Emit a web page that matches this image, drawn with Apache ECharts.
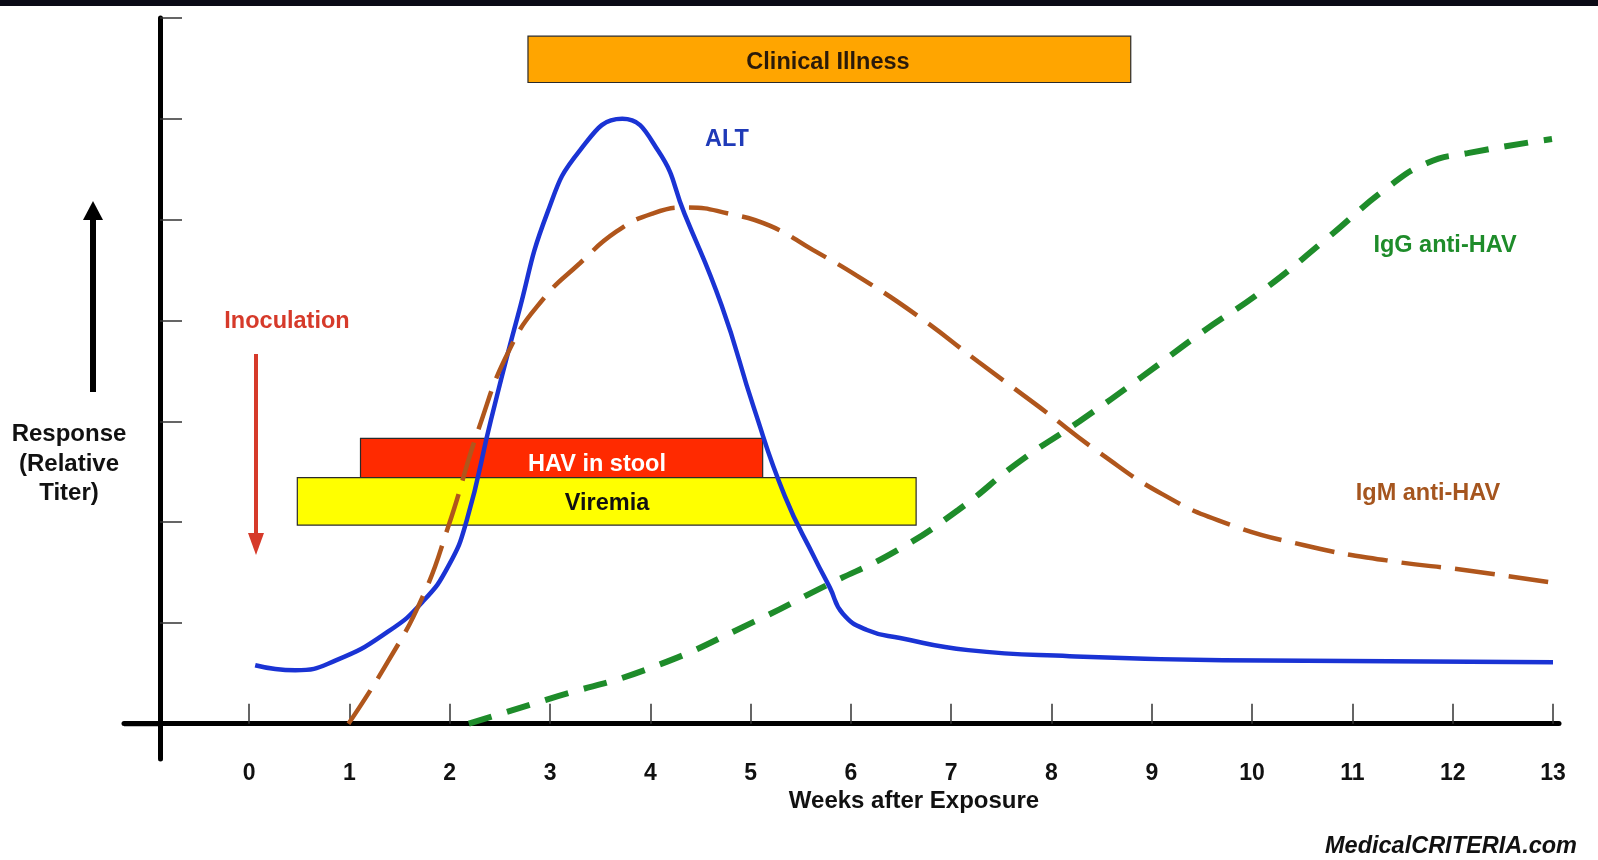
<!DOCTYPE html>
<html>
<head>
<meta charset="utf-8">
<title>Hepatitis A serology</title>
<script src="https://cdn.jsdelivr.net/npm/echarts@6/dist/echarts.min.js"></script>
<style>
  html, body { margin: 0; padding: 0; background: #fff; }
  #chart { width: 1598px; height: 860px; }
</style>
</head>
<body>
<div id="chart"></div>
<script>
// weeks after exposure -> relative titer
const weekTicks = [0, 1, 2, 3, 4, 5, 6, 7, 8, 9, 10, 11, 12, 13];
const titerTicks = [1, 2, 3, 4, 5, 6, 7];

const altWeeks = [0.06, 0.46, 0.87, 1.38, 1.73, 1.99, 2.17, 2.41, 2.68, 2.97, 3.3, 3.72, 4.08, 4.34, 4.71, 5.03, 5.34, 5.64, 5.79, 5.92, 6.16, 6.49, 7.17, 8.18, 9.71, 13];
const altValues = [0.58, 0.53, 0.63, 0.91, 1.21, 1.57, 2.02, 3.01, 4.05, 5.06, 5.69, 6.0, 5.68, 5.06, 4.15, 3.14, 2.26, 1.64, 1.35, 1.09, 0.93, 0.85, 0.73, 0.67, 0.63, 0.61];

const igmWeeks = [0.99, 1.38, 1.73, 1.99, 2.29, 2.6, 2.93, 3.3, 3.66, 4.02, 4.37, 4.78, 5.19, 5.62, 6.05, 6.66, 7.27, 7.88, 8.49, 9.1, 9.71, 10.52, 11.34, 12.15, 12.99];
const igmValues = [0, 0.61, 1.26, 1.97, 2.93, 3.72, 4.21, 4.57, 4.88, 5.06, 5.12, 5.06, 4.94, 4.7, 4.45, 4.05, 3.59, 3.14, 2.68, 2.28, 2.0, 1.77, 1.62, 1.52, 1.4];

const iggWeeks = [2.19, 3.0, 4.02, 5.03, 5.75, 6.46, 7.07, 7.68, 8.28, 8.9, 9.51, 10.11, 10.73, 11.34, 11.74, 12.15, 12.99];
const iggValues = [0, 0.25, 0.56, 1.01, 1.37, 1.72, 2.12, 2.6, 3.0, 3.44, 3.89, 4.3, 4.8, 5.31, 5.56, 5.66, 5.8];

// periods drawn as boxes
const bandNames = ['Clinical Illness', 'HAV in stool', 'Viremia'];
const bandStart = [2.78, 1.11, 0.48];
const bandEnd = [8.79, 5.12, 6.65];
const bandLow = [6.36, 2.44, 1.97];
const bandHigh = [6.82, 2.83, 2.44];
const bandColors = ['#ffa500', '#ff2a00', '#ffff00'];

const FONT = '"Liberation Sans", Arial, sans-serif';

const pairs = (xs, ys) => xs.map((x, i) => [x, ys[i]]);

const chart = echarts.init(document.getElementById('chart'));

const txt = (x, y, text, color, size, extra) => ({
  type: 'text',
  x: x,
  y: y,
  z: 100,
  style: Object.assign({
    text: text,
    fill: color,
    font: 'bold ' + size + 'px ' + FONT,
    textAlign: 'center',
    textVerticalAlign: 'middle'
  }, extra || {})
});

const option = {
  animation: false,
  backgroundColor: '#fff',
  grid: { left: 124, right: 39, top: 18, bottom: 101 },
  xAxis: {
    type: 'value',
    min: -1.248,
    max: 13.06,
    splitLine: { show: false },
    axisLine: { onZero: true, lineStyle: { color: '#000', width: 5 } },
    axisTick: {
      inside: true,
      length: 20,
      customValues: weekTicks,
      lineStyle: { color: '#333', width: 1.5 }
    },
    axisLabel: {
      customValues: weekTicks,
      margin: 3,
      color: '#111',
      fontSize: 23,
      fontWeight: 'bold',
      fontFamily: FONT
    }
  },
  yAxis: {
    type: 'value',
    min: -0.35,
    max: 7,
    offset: -36,
    splitLine: { show: false },
    axisLine: { show: true, onZero: false, lineStyle: { color: '#000', width: 5 } },
    axisTick: {
      show: true,
      inside: true,
      length: 22,
      customValues: titerTicks,
      lineStyle: { color: '#333', width: 1.5 }
    },
    axisLabel: { show: false }
  },
  series: [
    {
      type: 'custom',
      name: 'periods',
      data: bandNames.map((n, i) => [bandStart[i], bandEnd[i], bandLow[i], bandHigh[i], i]),
      encode: { x: [0, 1], y: [2, 3] },
      renderItem: function (params, api) {
        const p0 = api.coord([api.value(0), api.value(3)]);
        const p1 = api.coord([api.value(1), api.value(2)]);
        const i = api.value(4);
        return {
          type: 'rect',
          shape: { x: p0[0], y: p0[1], width: p1[0] - p0[0], height: p1[1] - p0[1] },
          style: { fill: bandColors[i], stroke: '#2a2a2a', lineWidth: 1.2 }
        };
      },
      z: 1
    },
    {
      type: 'line',
      name: 'ALT',
      data: pairs(altWeeks, altValues),
      smooth: 0.5,
      showSymbol: false,
      lineStyle: { color: '#1a33d4', width: 4.5 },
      z: 3
    },
    {
      type: 'line',
      name: 'IgM anti-HAV',
      data: pairs(igmWeeks, igmValues),
      smooth: 0.5,
      showSymbol: false,
      lineStyle: { color: '#b0561c', width: 4.5, type: [40, 14] },
      z: 4
    },
    {
      type: 'line',
      name: 'IgG anti-HAV',
      data: pairs(iggWeeks, iggValues),
      smooth: 0.5,
      showSymbol: false,
      lineStyle: { color: '#1e8c2a', width: 6, type: [24, 16] },
      z: 5
    }
  ],
  graphic: [
    // dark strip along the top
    { type: 'rect', shape: { x: 0, y: 0, width: 1598, height: 6 }, style: { fill: '#0b0b16' } },
    // extend x axis line to the left of the y axis
    { type: 'line', shape: { x1: 124, y1: 723.7, x2: 162, y2: 723.7 }, style: { stroke: '#000', lineWidth: 5 } },
    // response arrow
    { type: 'line', shape: { x1: 93, y1: 392, x2: 93, y2: 218 }, style: { stroke: '#000', lineWidth: 6 } },
    { type: 'polygon', shape: { points: [[83, 220], [103, 220], [93, 201]] }, style: { fill: '#000' } },
    txt(69, 434, 'Response', '#111', 24),
    txt(69, 464, '(Relative', '#111', 24),
    txt(69, 493, 'Titer)', '#111', 24),
    // inoculation arrow
    txt(287, 322, 'Inoculation', '#d63a2a', 23.5),
    { type: 'line', shape: { x1: 256, y1: 354, x2: 256, y2: 536 }, style: { stroke: '#d63a2a', lineWidth: 4 } },
    { type: 'polygon', shape: { points: [[248, 533], [264, 533], [256, 555]] }, style: { fill: '#d63a2a' } },
    // band labels
    txt(828, 63, 'Clinical Illness', '#2a1a0a', 23.5),
    txt(597, 465, 'HAV in stool', '#ffffff', 23.5),
    txt(607, 504, 'Viremia', '#111', 23.5),
    // curve labels
    txt(727, 140, 'ALT', '#1f3ab8', 23.5),
    txt(1445, 246, 'IgG anti-HAV', '#1e8c2a', 23.5),
    txt(1428, 494, 'IgM anti-HAV', '#a5551e', 23.5),
    // axis title and credit
    txt(914, 801, 'Weeks after Exposure', '#111', 24),
    txt(1577, 847, 'MedicalCRITERIA.com', '#111', 23.5, { textAlign: 'right', font: 'italic bold 23.5px ' + FONT })
  ]
};

chart.setOption(option);
</script>
</body>
</html>
